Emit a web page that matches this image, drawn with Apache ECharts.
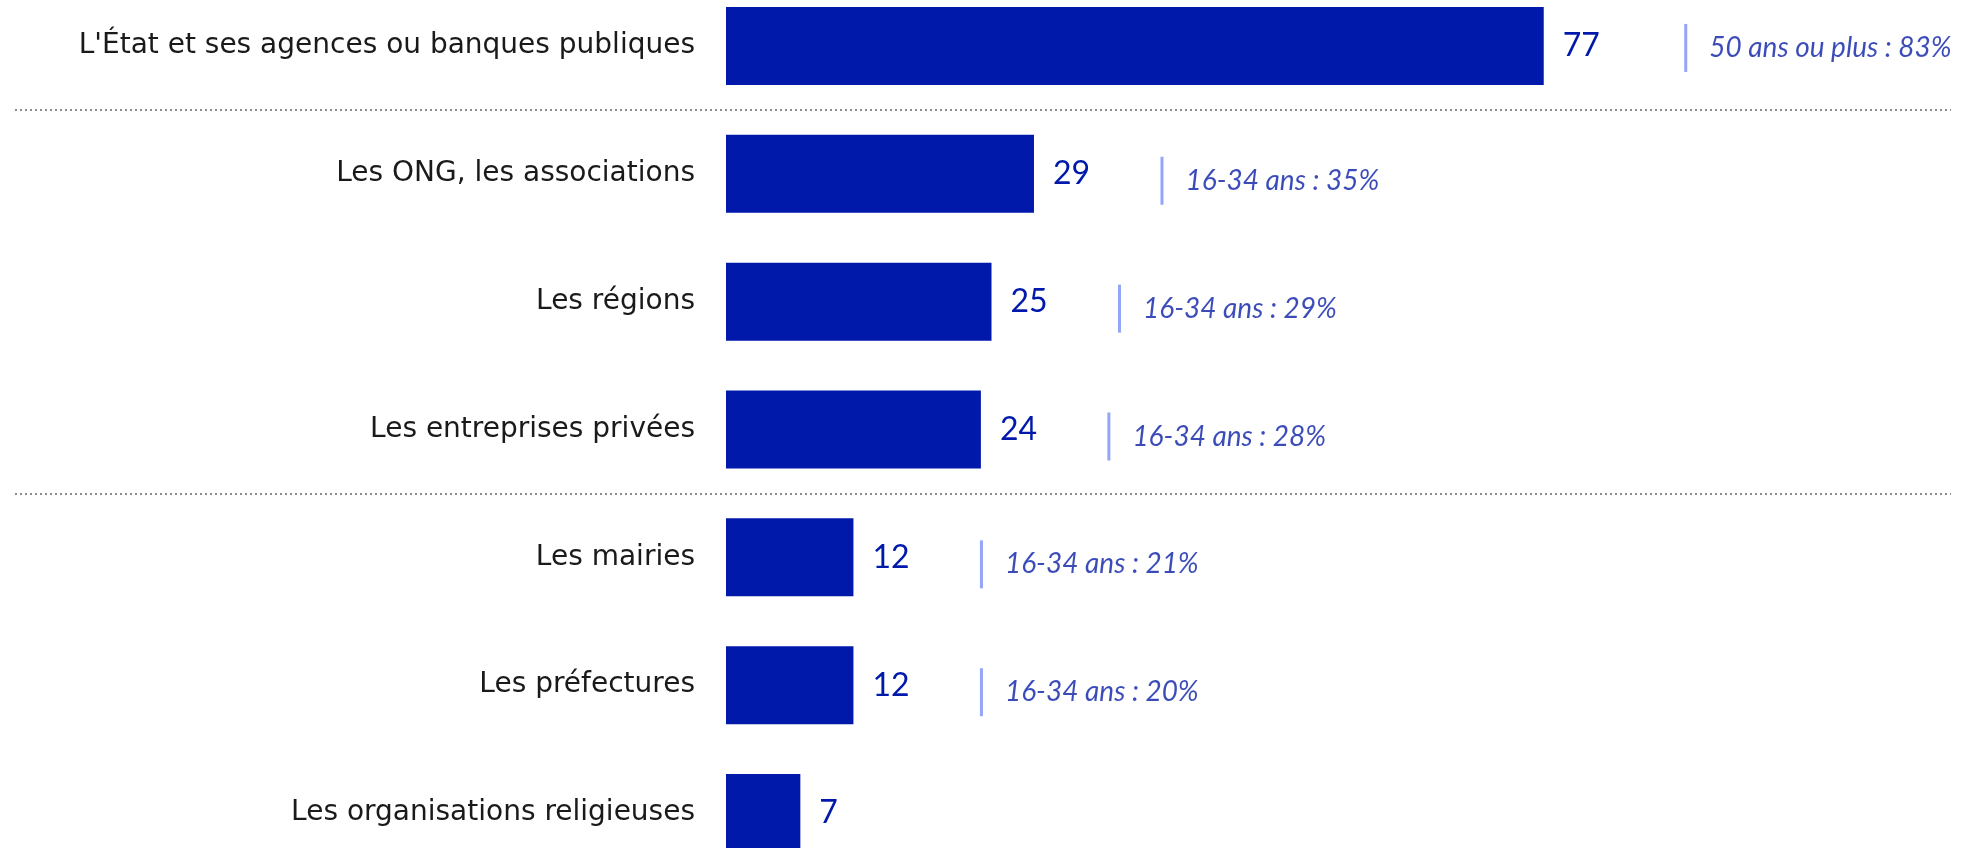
<!DOCTYPE html>
<html>
<head>
<meta charset="utf-8">
<script src="https://cdn.jsdelivr.net/npm/echarts@6/dist/echarts.min.js"></script>
<style>
  html, body { margin: 0; padding: 0; background: #fff; }
  #chart { width: 1977px; height: 848px; }
</style>
</head>
<body>
<div id="chart"></div>
<script>
// catégories, de haut en bas
const categories = [
  "L'État et ses agences ou banques publiques",
  'Les ONG, les associations',
  'Les régions',
  'Les entreprises privées',
  'Les mairies',
  'Les préfectures',
  'Les organisations religieuses'
]
const values = [77, 29, 25, 24, 12, 12, 7]
// sous-populations qui se distinguent
const notes = [
  '50 ans ou plus : 83%',
  '16-34 ans : 35%',
  '16-34 ans : 29%',
  '16-34 ans : 28%',
  '16-34 ans : 21%',
  '16-34 ans : 20%',
  null
]
// séparateurs pointillés avant ces lignes
const separatorsBefore = [1, 4]

const FONT = 'Lato'
const LABEL_FONT = 'DejaVu Sans'
const BLUE = '#0019aa'

const chart = echarts.init(document.getElementById('chart'))

// la première note est un peu plus décalée que les autres
const noteData = values
  .map((v, i) => ({
    value: [v, i],
    note: notes[i],
    symbolOffset: i === 0 ? [142, 2] : [128, 7]
  }))
  .filter(d => d.note)

const option = {
  animation: false,
  grid: [
    { left: 726, right: 189, top: -18, height: 895, outerBoundsMode: 'none' },
    { left: 15, right: 26, top: -18, height: 895, outerBoundsMode: 'none' }
  ],
  xAxis: [
    { type: 'value', min: 0, max: 100, show: false, gridIndex: 0 },
    { type: 'value', min: 0, max: 1, show: false, gridIndex: 1 }
  ],
  yAxis: [
    {
      type: 'category',
      gridIndex: 0,
      data: categories,
      inverse: true,
      axisLine: { show: false },
      axisTick: { show: false },
      splitLine: { show: false },
      axisLabel: {
        margin: 31,
        color: '#1a1a1a',
        fontFamily: LABEL_FONT,
        fontSize: 28,
        padding: [8, 0, 0, 0]
      }
    },
    {
      type: 'category',
      gridIndex: 1,
      data: categories,
      inverse: true,
      axisLine: { show: false },
      axisTick: { show: false },
      axisLabel: { show: false },
      splitLine: {
        show: true,
        interval: (index) => separatorsBefore.includes(index),
        lineStyle: { color: '#8c8c8c', width: 2, type: [2, 3] }
      }
    }
  ],
  series: [
    {
      type: 'bar',
      xAxisIndex: 0,
      yAxisIndex: 0,
      data: values,
      barWidth: 78,
      itemStyle: { color: BLUE },
      label: {
        show: true,
        position: 'right',
        distance: 19,
        color: BLUE,
        fontFamily: FONT,
        fontSize: 32,
        padding: [4, 0, 0, 0]
      }
    },
    {
      type: 'scatter',
      xAxisIndex: 0,
      yAxisIndex: 0,
      data: noteData,
      symbol: 'rect',
      symbolSize: [3, 48],
      itemStyle: { color: '#7b8ef6' },
      label: {
        show: true,
        position: 'right',
        distance: 22,
        formatter: p => p.data.note,
        color: '#0a1fa8',
        fontFamily: FONT,
        fontStyle: 'italic',
        fontSize: 28
      },
      emphasis: { disabled: true }
    }
  ]
}

chart.setOption(option)
</script>
</body>
</html>
